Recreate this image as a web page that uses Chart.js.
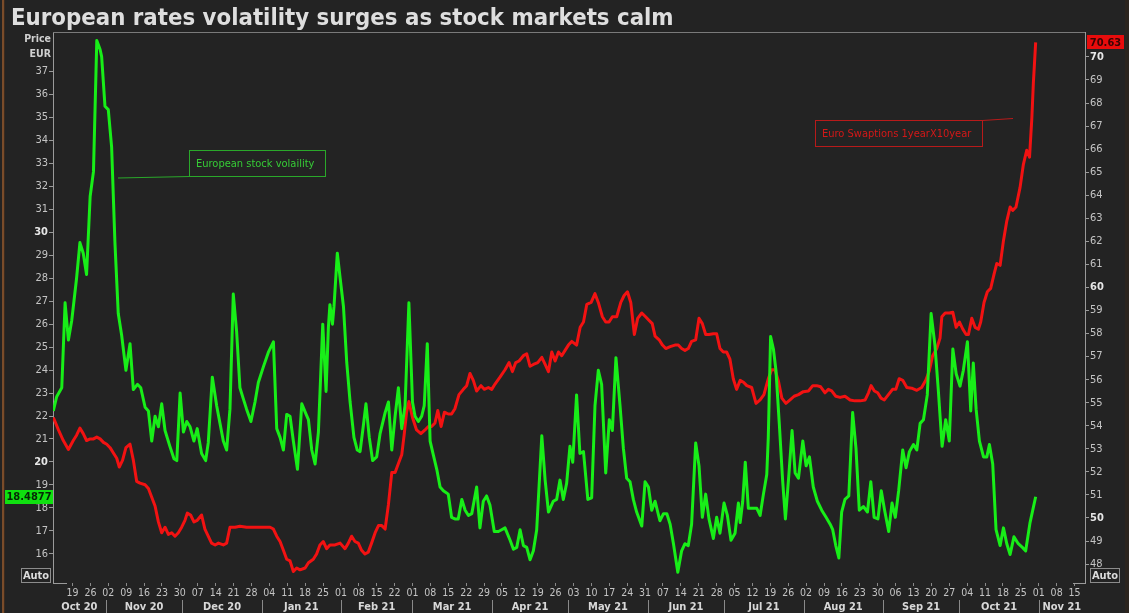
<!DOCTYPE html>
<html><head><meta charset="utf-8">
<script src="https://cdn.jsdelivr.net/npm/chart.js@4.4.1/dist/chart.umd.min.js"></script>
<style>
html,body{margin:0;padding:0;background:#232323;overflow:hidden}
canvas{display:block}
</style></head><body>
<canvas id="c" width="1129" height="613"></canvas>
<script>
// ---- data (x = days since 2020-10-19) ----
const startDate = '2020-10-19';
const titleText = 'European rates volatility surges as stock markets calm';
const greenName = 'European stock volaility';
const redName = 'Euro Swaptions 1yearX10year';

const weekTickLabels = ['19','26','02','09','16','23','30','07','14','21','28','04','11','18','25','01','08','15','22','01','08','15','22','29','05','12','19','26','03','10','17','24','31','07','14','21','28','05','12','19','26','02','09','16','23','30','06','13','20','27','04','11','18','25','01','08','15'];
const monthLabels = ['Sep 20','Oct 20','Nov 20','Dec 20','Jan 21','Feb 21','Mar 21','Apr 21','May 21','Jun 21','Jul 21','Aug 21','Sep 21','Oct 21','Nov 21'];
const monthStartDays = [-48,-18,13,43,74,105,133,164,194,225,255,286,317,347,378,408];
const leftTicks = [16,17,18,19,20,21,22,23,24,25,26,27,28,29,30,31,32,33,34,35,36,37];
const rightTicks = [48,49,50,51,52,53,54,55,56,57,58,59,60,61,62,63,64,65,66,67,68,69,70];

const greenSeries = [[-7.5,22.22],[-6.2,22.84],[-4.2,23.23],[-2.9,26.93],[-1.6,25.31],[-0.3,26.16],[1.6,28.01],[2.9,29.55],[4.2,29.09],[5.5,28.16],[6.9,31.56],[8.2,32.64],[9.5,38.35],[10.8,37.96],[11.4,37.65],[12.7,35.49],[14.0,35.34],[15.3,33.72],[16.6,29.55],[17.9,26.46],[19.2,25.54],[20.9,23.99],[22.5,25.15],[23.8,23.15],[25.4,23.38],[26.7,23.23],[28.4,22.38],[29.7,22.22],[31.0,20.91],[32.3,21.99],[33.6,21.53],[34.9,22.53],[36.2,21.37],[38.1,20.68],[39.7,20.14],[40.8,20.06],[42.1,23.0],[43.4,21.30],[44.7,21.76],[46.0,21.53],[47.5,20.91],[48.8,21.45],[50.5,20.37],[52.1,20.06],[53.1,20.83],[54.7,23.69],[56.4,22.45],[57.7,21.68],[59.0,20.91],[60.3,20.52],[61.6,22.30],[62.9,27.31],[64.2,25.69],[65.5,23.23],[66.8,22.76],[68.1,22.30],[69.8,21.76],[71.4,22.61],[72.7,23.46],[74.7,24.15],[76.6,24.77],[78.6,25.23],[79.9,21.45],[81.2,21.07],[82.5,20.52],[83.8,22.07],[85.1,21.99],[86.4,20.91],[88.0,19.68],[89.7,22.53],[91.4,22.07],[92.3,21.84],[93.6,20.52],[94.9,19.91],[96.2,21.30],[97.9,26.0],[99.2,23.07],[100.1,25.85],[100.7,26.85],[101.7,26.0],[102.3,26.77],[103.6,29.09],[104.7,28.01],[106.0,26.77],[107.3,24.31],[108.6,22.61],[110.1,21.07],[111.4,20.52],[112.5,20.45],[113.8,21.60],[114.8,22.53],[116.1,21.07],[117.4,20.06],[119.0,20.22],[120.3,21.22],[122.3,22.15],[123.6,22.61],[124.9,20.52],[126.2,21.99],[127.5,23.23],
[128.8,21.45],[130.1,22.45],[131.6,26.93],[133.0,22.61],[134.0,21.99],[135.3,21.76],[136.6,21.99],[137.6,22.45],[138.8,25.15],[139.9,20.91],[141.2,20.29],[142.5,19.68],[143.8,18.91],[145.1,18.75],[147.0,18.60],[148.3,17.59],[149.6,17.52],[150.9,17.52],[152.3,18.37],[153.6,17.90],[154.9,17.67],[156.2,17.75],[158.1,18.91],[159.4,17.13],[160.7,18.29],[162.0,18.52],[163.3,18.13],[165.0,16.97],[166.6,16.97],[167.9,17.05],[169.2,17.13],[171.2,16.59],[172.5,16.20],[173.8,16.28],[175.1,17.05],[176.4,16.36],[177.7,16.28],[179.0,15.74],[180.3,16.13],[181.6,17.05],[183.6,21.14],[184.9,19.21],[186.2,17.82],[188.1,18.29],[189.4,18.37],[190.7,19.21],[192.0,18.37],[193.3,19.06],[194.6,20.68],[195.7,19.99],[197.2,22.92],[198.5,20.37],[199.9,20.45],[201.6,18.37],[203.1,18.44],[204.4,22.45],[205.7,23.99],[207.0,23.38],[208.6,19.52],[210.0,21.84],[211.2,21.37],[212.6,24.54],[214.2,22.45],[215.5,20.60],[216.8,19.29],[218.1,19.14],[219.4,18.37],[220.7,17.82],[222.7,17.21],[224.0,19.14],[225.3,18.91],[226.6,17.90],[227.9,18.29],[229.8,17.44],[231.2,17.75],[232.5,17.75],[233.8,17.29],[235.1,16.44],[236.8,15.20],[238.3,16.13],[239.6,16.44],[240.9,16.36],[242.2,17.29],[243.8,20.83],[245.1,19.83],[246.4,17.59],[247.7,18.60],[249.0,17.52],[250.7,16.67],[252.0,17.59],[253.3,16.90],[254.9,18.21],[256.2,17.67],[257.6,16.59],[259.2,16.90],[260.5,18.21],
[261.2,17.36],[262.2,18.29],[263.2,19.99],[264.4,17.98],[266.1,17.98],[267.7,17.98],[269.0,17.67],[270.3,18.60],[271.6,19.45],[272.2,21.07],[273.1,25.46],[274.2,24.92],[275.2,23.99],[276.5,21.68],[277.8,19.21],[278.9,17.52],[280.2,19.37],[281.5,21.37],[282.7,19.52],[284.0,19.29],[285.7,20.91],[287.0,19.83],[288.3,20.22],[289.8,18.91],[291.4,18.29],[293.1,17.90],[294.8,17.59],[296.4,17.29],[297.4,17.05],[298.6,16.36],[299.8,15.82],[300.9,17.82],[302.2,18.37],[303.7,18.52],[305.2,22.15],[306.5,20.60],[307.8,17.90],[309.4,18.06],[311.0,17.82],[312.3,19.14],[313.6,17.59],[315.1,17.52],[316.4,18.75],[317.7,17.90],[319.3,16.97],[320.6,18.21],[321.9,17.59],[323.2,18.75],[324.8,20.52],[326.1,19.75],[327.4,20.45],[329.0,20.76],[330.3,20.52],[331.6,21.68],[332.9,21.84],[334.4,22.92],[335.9,26.46],[337.4,25.08],[338.7,23.15],[340.2,20.68],[341.6,21.84],[343.0,20.91],[344.4,24.92],[345.7,23.84],[347.2,23.30],[348.5,23.99],[350.1,25.23],[351.4,22.22],[352.4,24.31],[353.5,22.30],[354.8,20.91],[356.4,20.22],[357.7,20.22],[358.7,20.76],[360.0,19.91],[361.3,17.05],[362.9,16.36],[364.2,17.13],[365.5,16.44],[366.8,15.97],[368.3,16.74],[370.0,16.44],[371.6,16.28],[372.9,16.13],[374.6,17.36],[376.8,18.4877]];

const redSeries = [[-7.5,54.36],[-5.5,53.82],[-3.6,53.36],[-1.6,52.97],[0.3,53.36],[1.6,53.59],[2.9,53.90],[4.2,53.66],[5.5,53.36],[6.9,53.43],[8.2,53.43],[9.5,53.51],[10.8,53.43],[12.1,53.28],[13.4,53.20],[14.7,53.05],[16.0,52.82],[17.3,52.59],[18.3,52.21],[19.6,52.51],[20.9,53.05],[22.5,53.20],[23.8,52.51],[25.1,51.59],[26.4,51.51],[28.4,51.44],[29.7,51.28],[31.0,50.90],[32.3,50.52],[33.6,49.83],[34.9,49.36],[36.2,49.60],[37.5,49.29],[38.8,49.36],[40.1,49.21],[41.4,49.36],[42.7,49.60],[44.0,49.90],[44.9,50.21],[46.2,50.13],[47.5,49.83],[48.8,49.90],[50.5,50.13],[51.8,49.52],[53.1,49.21],[54.4,48.91],[55.8,48.83],[57.1,48.91],[59.0,48.83],[60.3,48.91],[61.6,49.60],[63.6,49.60],[65.5,49.64],[68.1,49.60],[72.1,49.60],[77.3,49.60],[78.6,49.52],[79.9,49.21],[81.2,48.98],[82.5,48.60],[83.8,48.21],[85.1,48.14],[86.4,47.68],[87.7,47.83],[89.0,47.75],[91.0,47.83],[92.3,48.06],[94.2,48.21],[95.5,48.44],[96.8,48.83],[98.1,48.98],[99.4,48.67],[100.7,48.83],[102.7,48.83],[104.7,48.91],[106.6,48.67],[107.9,48.91],[109.2,49.21],[110.5,48.98],[111.8,48.91],[113.1,48.60],[114.4,48.44],[115.7,48.52],[117.0,48.91],[118.4,49.36],[119.7,49.67],[121.0,49.67],[122.3,49.52],[123.6,50.59],[124.9,51.97],
[126.2,51.97],[127.5,52.36],[128.8,52.74],[129.8,53.66],[130.7,54.59],[131.6,55.05],[133.0,54.36],[134.6,53.82],[136.3,53.66],[137.9,53.82],[139.2,53.97],[140.5,53.97],[141.8,54.12],[142.9,54.66],[144.2,53.97],[145.5,54.59],[147.0,54.51],[148.3,54.51],[149.6,54.74],[151.2,55.35],[152.9,55.58],[154.2,55.74],[155.5,56.27],[156.8,55.97],[158.1,55.51],[159.8,55.74],[161.1,55.58],[162.7,55.66],[164.0,55.58],[165.3,55.81],[167.3,56.12],[169.2,56.43],[170.8,56.74],[172.1,56.35],[173.4,56.74],[174.7,56.81],[176.4,57.04],[177.7,57.12],[179.0,56.58],[180.3,56.66],[182.0,56.74],[183.6,56.97],[184.9,56.66],[186.2,56.35],[187.5,57.20],[188.8,56.81],[190.1,57.20],[191.4,57.04],[192.7,57.27],[194.0,57.50],[195.3,57.66],[197.2,57.50],[198.6,58.27],[199.9,58.50],[201.2,59.27],[202.9,59.35],[204.4,59.73],[205.7,59.35],[207.3,58.73],[208.6,58.50],[209.9,58.50],[211.2,58.73],[212.9,58.73],[214.5,59.35],[215.8,59.65],[217.1,59.81],[218.4,59.35],[219.8,57.96],[221.1,58.66],[222.7,58.89],[224.2,58.73],[225.5,58.58],[226.8,58.43],[227.9,57.89],[229.5,57.73],[230.8,57.50],[232.1,57.35],[233.8,57.43],[235.7,57.50],[237.0,57.50],[238.3,57.35],[239.6,57.27],[240.9,57.35],[242.2,57.66],[243.8,57.73],[245.1,58.66],[246.4,58.43],[247.7,57.96],[249.0,57.96],[250.7,57.99],[252.0,57.99],[253.3,57.35],[254.6,57.20],[255.9,57.20],[257.2,56.89],[258.5,56.04],[259.8,55.58],
[261.2,55.97],[262.5,55.89],[263.8,55.74],[265.7,55.66],[267.4,54.97],[269.0,55.12],[270.5,55.35],[272.2,56.04],[273.5,56.43],[274.8,56.43],[276.1,55.97],[277.5,55.20],[279.1,54.97],[280.7,55.12],[282.3,55.28],[284.0,55.35],[285.9,55.48],[287.9,55.51],[289.6,55.74],[291.1,55.74],[292.7,55.69],[294.4,55.43],[295.7,55.58],[297.0,55.51],[298.6,55.28],[300.3,55.23],[302.2,55.28],[304.2,55.12],[306.1,55.08],[308.1,55.08],[310.1,55.12],[311.4,55.43],[312.4,55.74],[313.7,55.51],[315.0,55.43],[316.3,55.20],[317.6,55.12],[319.2,55.35],[320.8,55.58],[322.1,55.58],[323.4,56.04],[324.8,55.97],[326.4,55.66],[328.3,55.63],[330.3,55.54],[332.2,55.66],[333.8,55.97],[335.1,56.35],[336.5,57.04],[338.1,57.35],[339.4,57.81],[340.1,58.73],[341.4,58.89],[343.0,58.89],[344.4,58.92],[345.7,58.27],[347.0,58.50],[348.3,58.19],[349.6,57.96],[350.5,57.96],[351.8,58.66],[353.1,58.27],[354.4,58.19],[355.3,58.50],[356.6,59.35],[357.9,59.81],[359.2,59.96],[360.5,60.57],[361.6,61.04],[362.9,60.96],[364.2,62.03],[365.5,62.88],[366.8,63.49],[367.8,63.34],[369.1,63.49],[370.7,64.34],[372.0,65.34],[373.3,65.95],[374.4,65.65],[375.3,67.33],[375.9,68.87],[376.8,70.63]];

// ---- style ----
const FONT = "'DejaVu Sans Condensed','DejaVu Sans',sans-serif";
const BG = '#232323';
const GREEN = '#18ee18';
const RED = '#f21212';
const AXIS = '#9a9a9a';
const TXT = '#c4c4c4';
const TXTB = '#e6e6e6';

const decor = {
  id: 'decor',
  beforeDraw(chart) {
    const c = chart.ctx;
    c.save();
    c.fillStyle = BG;
    c.fillRect(0, 0, chart.width, chart.height);
    // left window edge
    c.fillStyle = '#7a4c2a';
    c.fillRect(2, 0, 2, chart.height);
    c.fillStyle = '#3a2a1e';
    c.fillRect(4, 0, 1, chart.height);
    c.fillStyle = '#2b241e';
    c.fillRect(1125, 0, 4, chart.height);
    c.restore();
  },
  afterDraw(chart) {
    const c = chart.ctx;
    const a = chart.chartArea;
    const xs = chart.scales.x, yl = chart.scales.yL, yr = chart.scales.yR;
    c.save();
    // title
    let fs = 23.5;
    c.font = `bold ${fs}px ${FONT}`;
    const w = c.measureText(titleText).width;
    fs = fs * 663 / w;
    c.font = `bold ${fs}px ${FONT}`;
    c.fillStyle = '#dedede';
    c.textBaseline = 'alphabetic';
    c.textAlign = 'left';
    c.fillText(titleText, 11, 25);
    // Price / EUR
    c.font = `bold 10.5px ${FONT}`;
    c.fillStyle = '#d0d0d0';
    c.textAlign = 'right';
    c.textBaseline = 'middle';
    c.fillText('Price', 51, 39);
    c.fillText('EUR', 51, 54);
    // top border + bottom stubs
    c.strokeStyle = '#7a7a7a';
    c.lineWidth = 1;
    c.beginPath();
    c.moveTo(a.left, a.top + 0.5); c.lineTo(a.right, a.top + 0.5);
    c.stroke();
    c.strokeStyle = AXIS;
    c.beginPath();
    c.moveTo(a.left, a.bottom + 0.5); c.lineTo(a.left + 14, a.bottom + 0.5);
    c.moveTo(a.right - 12, a.bottom + 0.5); c.lineTo(a.right, a.bottom + 0.5);
    c.stroke();
    // month labels & separators
    c.font = `bold 11px ${FONT}`;
    c.fillStyle = '#d8d8d8';
    c.textAlign = 'center';
    c.textBaseline = 'middle';
    c.strokeStyle = '#8a8a8a';
    for (let i = 0; i < monthLabels.length; i++) {
      const s = monthStartDays[i], e = monthStartDays[i + 1];
      const ps = Math.max(xs.getPixelForValue(s), a.left);
      const pe = Math.min(xs.getPixelForValue(e), a.right);
      if (pe <= ps + 5) continue;
      c.fillText(monthLabels[i], (ps + pe) / 2, 607);
      const sp = Math.round(xs.getPixelForValue(e)) + 0.5;
      if (sp > a.left && sp < a.right) {
        c.beginPath(); c.moveTo(sp, 600); c.lineTo(sp, 613); c.stroke();
      }
    }
    // annotation boxes
    c.font = `11px ${FONT}`;
    c.textAlign = 'left';
    c.lineWidth = 1;
    // green
    c.strokeStyle = '#2aa82a';
    c.strokeRect(189.5, 150.5, 136, 26);
    c.beginPath(); c.moveTo(189.5, 176.5); c.lineTo(118, 178); c.stroke();
    c.fillStyle = '#36cc36';
    c.fillText(greenName, 196, 164);
    // red
    c.strokeStyle = '#b81a1a';
    c.strokeRect(815.5, 120.5, 167, 26);
    c.beginPath(); c.moveTo(982.5, 120.5); c.lineTo(1013, 118.5); c.stroke();
    c.fillStyle = '#d41818';
    c.fillText(redName, 822, 134);
    // last value tags
    const gLast = greenSeries[greenSeries.length - 1][1];
    const rLast = redSeries[redSeries.length - 1][1];
    const gy = yl.getPixelForValue(gLast);
    const ry = yr.getPixelForValue(rLast);
    c.fillStyle = '#10e010';
    c.fillRect(5, Math.round(gy) - 7, 48, 14);
    c.fillStyle = '#062806';
    c.font = `bold 11px ${FONT}`;
    c.textAlign = 'center';
    c.fillText(gLast.toFixed(4), 29, gy + 0.5);
    c.fillStyle = '#e80c0c';
    c.fillRect(1087, Math.round(ry) - 7, 37, 14);
    c.fillStyle = '#3a0404';
    c.fillText(rLast.toFixed(2), 1105.5, ry + 0.5);
    // Auto boxes
    c.strokeStyle = '#8c8c8c';
    c.fillStyle = '#dcdcdc';
    c.font = `bold 11px ${FONT}`;
    c.strokeRect(21.5, 568.5, 29, 14);
    c.fillText('Auto', 36, 576);
    c.strokeRect(1090.5, 568.5, 29, 14);
    c.fillText('Auto', 1105, 576);
    c.restore();
  }
};

const tickFont = (ctx) => ({ family: FONT, size: 11, weight: (ctx.tick && ctx.tick.value % 10 === 0) ? 'bold' : 'normal' });
const tickColor = (ctx) => (ctx.tick && ctx.tick.value % 10 === 0) ? TXTB : TXT;

new Chart(document.getElementById('c'), {
  type: 'line',
  data: {
    datasets: [
      { label: greenName, data: greenSeries.map(p => ({ x: p[0], y: p[1] })), yAxisID: 'yL',
        borderColor: GREEN, borderWidth: 3, pointRadius: 0, tension: 0, fill: false, borderJoinStyle: 'round' },
      { label: redName, data: redSeries.map(p => ({ x: p[0], y: p[1] })), yAxisID: 'yR',
        borderColor: RED, borderWidth: 3, pointRadius: 0, tension: 0, fill: false, borderJoinStyle: 'round' }
    ]
  },
  options: {
    responsive: false, animation: false, devicePixelRatio: 1,
    layout: { padding: { top: 32, left: 0, right: 0, bottom: 0 } },
    plugins: { legend: { display: false }, tooltip: { enabled: false }, title: { display: false } },
    scales: {
      x: {
        type: 'linear', position: 'bottom', min: -7.63, max: 396.1,
        afterBuildTicks: (s) => { s.ticks = weekTickLabels.map((l, i) => ({ value: i * 7 })); },
        afterFit: (s) => { s.height = 30; },
        ticks: { autoSkip: false, maxRotation: 0, minRotation: 0, color: TXT, padding: 1,
          font: { family: FONT, size: 10.5 }, callback: (v, i) => weekTickLabels[i] },
        grid: { drawOnChartArea: false, drawTicks: true, tickLength: 3, color: '#8a8a8a' },
        border: { display: false }
      },
      yL: {
        type: 'linear', position: 'left', min: 14.73, max: 38.72,
        afterBuildTicks: (s) => { s.ticks = leftTicks.map(v => ({ value: v })); },
        afterFit: (s) => { s.width = 53; },
        ticks: { color: tickColor, font: tickFont, padding: 1 },
        grid: { drawOnChartArea: false, drawTicks: true, tickLength: 4, color: AXIS },
        border: { display: true, color: AXIS, width: 1 }
      },
      yR: {
        type: 'linear', position: 'right', min: 47.18, max: 71.08,
        afterBuildTicks: (s) => { s.ticks = rightTicks.map(v => ({ value: v })); },
        afterFit: (s) => { s.width = 44; },
        ticks: { color: tickColor, font: tickFont, padding: 1 },
        grid: { drawOnChartArea: false, drawTicks: true, tickLength: 4, color: AXIS },
        border: { display: true, color: AXIS, width: 1 }
      }
    }
  },
  plugins: [decor]
});
</script>
</body></html>
